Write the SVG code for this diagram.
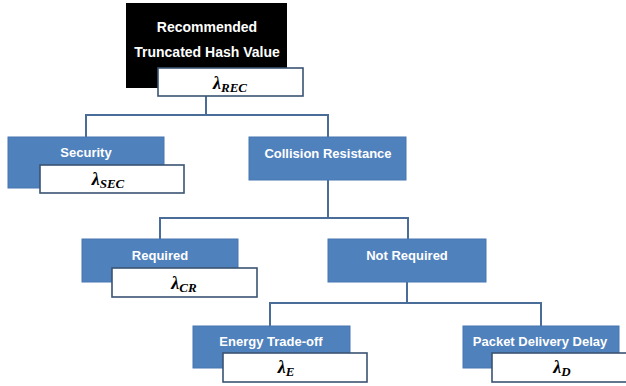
<svg xmlns="http://www.w3.org/2000/svg" width="626" height="386" viewBox="0 0 626 386">
<style>
.blue{fill:#4f81bd;stroke:#4677b2;stroke-width:1}
.val{fill:#ffffff;stroke:#3b5372;stroke-width:1.6}
.lbl{font-family:"Liberation Sans",Arial,sans-serif;font-weight:bold;font-size:13px;fill:#ffffff;text-anchor:middle}
.ttl{font-size:14px}
.lam{font-family:"Liberation Serif","Times New Roman",serif;font-weight:bold;font-style:italic;font-size:18px;fill:#000000;text-anchor:middle}
.sub{font-size:13px}
.con{fill:none;stroke:#4a6c98;stroke-width:2}
</style>
<rect width="626" height="386" fill="#ffffff"/>
<g id="connectors">
<path class="con" d="M206 96V115M86 137V115H328V137"/>
<path class="con" d="M328 180V218M160 239V218H408V239"/>
<path class="con" d="M407 282V303M270 326V303H541V326"/>
</g>
<g id="root">
<rect x="126" y="3" width="161" height="85" fill="#000000"/>
<text class="lbl ttl" x="207" y="32">Recommended</text>
<text class="lbl ttl" x="207" y="57">Truncated Hash Value</text>
<rect class="val" x="158" y="68" width="145" height="28"/>
<text class="lam" x="230" y="89">λ<tspan class="sub" dy="3">REC</tspan></text>
</g>
<g id="security">
<rect class="blue" x="8" y="137" width="156" height="51"/>
<text class="lbl" x="86" y="157">Security</text>
<rect class="val" x="40" y="165" width="144" height="28"/>
<text class="lam" x="108" y="185">λ<tspan class="sub" dy="3">SEC</tspan></text>
</g>
<g id="collision">
<rect class="blue" x="249" y="137" width="157" height="43"/>
<text class="lbl" x="328" y="158">Collision Resistance</text>
</g>
<g id="required">
<rect class="blue" x="82" y="239" width="156" height="43"/>
<text class="lbl" x="160" y="260">Required</text>
<rect class="val" x="112" y="268" width="145" height="29"/>
<text class="lam" x="184" y="289">λ<tspan class="sub" dy="3">CR</tspan></text>
</g>
<g id="notrequired">
<rect class="blue" x="328" y="239" width="158" height="43"/>
<text class="lbl" x="407" y="260">Not Required</text>
</g>
<g id="energy">
<rect class="blue" x="193" y="326" width="157" height="42"/>
<text class="lbl" x="271" y="346">Energy Trade-off</text>
<rect class="val" x="223" y="353" width="144" height="29"/>
<text class="lam" x="286" y="373">λ<tspan class="sub" dy="3">E</tspan></text>
</g>
<g id="packet">
<rect class="blue" x="463" y="326" width="156" height="42"/>
<text class="lbl" x="540" y="346">Packet Delivery Delay</text>
<rect class="val" x="492" y="353" width="140" height="29"/>
<text class="lam" x="562" y="373">λ<tspan class="sub" dy="3">D</tspan></text>
</g>
</svg>
